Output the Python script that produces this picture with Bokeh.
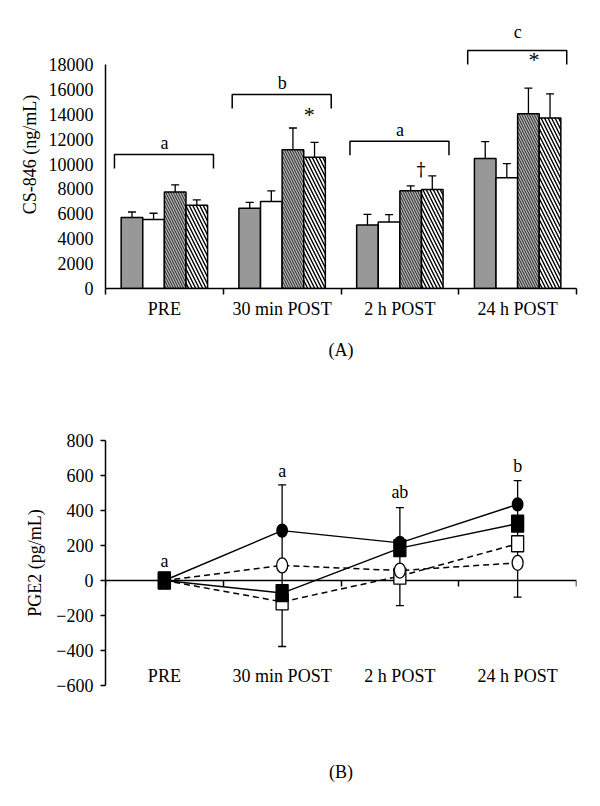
from bokeh.plotting import figure
from bokeh.models import (ColumnDataSource, FixedTicker, Whisker, TeeHead, Range1d, LinearAxis)
from bokeh.layouts import column
from bokeh.embed import file_html
from bokeh.resources import INLINE
from bokeh.core.properties import value

FONT = "Liberation Serif"

categories = ["PRE", "30 min POST", "2 h POST", "24 h POST"]

# ---------------- Panel A: CS-846 (ng/mL) ----------------
bar1 = [5700, 6450, 5100, 10450]
bar1_err = [450, 480, 850, 1350]
bar2 = [5550, 7000, 5350, 8900]
bar2_err = [500, 850, 580, 1130]
bar3 = [7750, 11150, 7850, 14050]
bar3_err = [580, 1750, 400, 2050]
bar4 = [6700, 10550, 7950, 13700]
bar4_err = [420, 1200, 1100, 1950]

bracket_tops = [10770, 15590, 11840, 19130]
bracket_letters = ["a", "b", "a", "c"]
bracket_label_y = [11670, 16490, 12740, 20600]

mark_text = ["*", "\u2020", "*"]
mark_cat = [1, 2, 3]
mark_dx = [0.73, 0.68, 0.64]
mark_y = [13980, 9580, 18400]
mark_size = ["22px", "18px", "22px"]

# ---------------- Panel B: PGE2 (pg/mL) ----------------
pge_filled_circle = [0, 285, 215, 435]
pge_filled_square = [0, -72, 185, 325]
pge_open_circle = [0, 86, 57, 101]
pge_open_square = [0, -122, 25, 210]

err_cat = [1, 2, 3]
err_low = [-377, -143, -95]
err_high = [547, 417, 571]

sig_labels = ["a", "a", "ab", "b"]
sig_y = [109, 628, 503, 653]

yticks_a = list(range(0, 18001, 2000))
yticks_b = list(range(-600, 801, 200))

# ======================= Panel A =======================
p1 = figure(width=592, height=370, x_range=Range1d(0, 4), y_range=Range1d(0, 21540),
            output_backend="svg", toolbar_location=None,
            min_border_left=105, min_border_right=14, min_border_top=20, min_border_bottom=82)
p1.outline_line_color = None
p1.grid.visible = False

bw = 0.1835
centers = [i + 0.5 for i in range(4)]
series = [
    (bar1, bar1_err, dict(fill_color="#989898")),
    (bar2, bar2_err, dict(fill_color="white")),
    (bar3, bar3_err, dict(fill_color="#b4b4b4", hatch_pattern="\\", hatch_color="#222222",
                          hatch_scale=5, hatch_weight=1.0)),
    (bar4, bar4_err, dict(fill_color="white", hatch_pattern="\\", hatch_color="black",
                          hatch_scale=7, hatch_weight=1.4)),
]
for j, (vals, errs, style) in enumerate(series):
    xs = [c + (j - 1.5) * bw for c in centers]
    src = ColumnDataSource(dict(x=xs, top=vals,
                                upper=[v + e for v, e in zip(vals, errs)],
                                lower=[v - e for v, e in zip(vals, errs)]))
    p1.vbar(x="x", top="top", width=bw, bottom=0, source=src,
            line_color="black", line_width=1.5, **style)
    w = Whisker(source=src, base="x", upper="upper", lower="lower", dimension="height",
                line_color="black", line_width=1.3,
                upper_head=TeeHead(size=8, line_color="black", line_width=1.3),
                lower_head=TeeHead(size=8, line_color="black", line_width=1.3))
    p1.add_layout(w)

drop = 1125
bxs, bys = [], []
for i, top in enumerate(bracket_tops):
    bxs.append([i + 0.076, i + 0.076, i + 0.917, i + 0.917])
    bys.append([top - drop, top, top, top - drop])
p1.multi_line(xs=bxs, ys=bys, line_color="black", line_width=1.5)
p1.text(x=centers, y=bracket_label_y, text=bracket_letters,
        text_font=value(FONT), text_font_size="18px", text_align="center",
        text_baseline="alphabetic", text_color="black")
for t, c, dx, y, s in zip(mark_text, mark_cat, mark_dx, mark_y, mark_size):
    fnt = "DejaVu Serif" if t == "\u2020" else FONT
    p1.text(x=[c + dx], y=[y], text=[t], text_font=value(fnt), text_font_size=s,
            text_align="center", text_baseline="alphabetic", text_color="black")

p1.yaxis.ticker = FixedTicker(ticks=yticks_a)
p1.yaxis.bounds = (0, 18000)
p1.xaxis.ticker = FixedTicker(ticks=centers, minor_ticks=[0, 1, 2, 3, 4])
p1.xaxis.major_label_overrides = {c: lab for c, lab in zip(centers, categories)}
p1.xaxis.major_tick_out = 6
p1.xaxis.minor_tick_out = 6
p1.xaxis.minor_tick_in = 0
p1.xaxis.minor_tick_line_color = "black"
p1.xaxis.minor_tick_line_width = 1.5
p1.xaxis.major_label_standoff = 4
p1.xaxis.axis_label = "(A)"
p1.xaxis.axis_label_standoff = 18
p1.yaxis.axis_label = "CS-846 (ng/mL)"
p1.yaxis.major_tick_out = 5
p1.yaxis.major_tick_in = 0
p1.yaxis.minor_tick_line_color = None
p1.yaxis.major_label_standoff = 7
p1.yaxis.axis_label_standoff = 6
for ax in [p1.xaxis, p1.yaxis]:
    ax.axis_line_color = "black"
    ax.axis_line_width = 1.5
    ax.major_tick_line_width = 1.5
    ax.major_tick_line_color = "black" if ax is p1.yaxis else None
    ax.major_label_text_font = FONT
    ax.major_label_text_font_size = "18px"
    ax.major_label_text_color = "black"
    ax.axis_label_text_font = FONT
    ax.axis_label_text_font_size = "18px"
    ax.axis_label_text_font_style = "normal"
    ax.axis_label_text_color = "black"

# ======================= Panel B =======================
p2 = figure(width=592, height=428, x_range=Range1d(0, 4), y_range=Range1d(-600, 800),
            output_backend="svg", toolbar_location=None, x_axis_type=None,
            min_border_left=102, min_border_right=16, min_border_top=70, min_border_bottom=113)
p2.outline_line_color = None
p2.grid.visible = False

lab_axis = LinearAxis(ticker=FixedTicker(ticks=[]), axis_line_color=None,
                      major_tick_line_color=None, minor_tick_line_color=None,
                      major_tick_out=0, minor_tick_out=0,
                      axis_label="(B)", axis_label_standoff=76,
                      axis_label_text_font=FONT, axis_label_text_font_size="18px",
                      axis_label_text_font_style="normal", axis_label_text_color="black")
p2.add_layout(lab_axis, "below")
zero_axis = LinearAxis(ticker=FixedTicker(ticks=[0, 1, 2, 3, 4]), fixed_location=0,
                       major_label_overrides={k: "" for k in [0, 1, 2, 3, 4]},
                       axis_line_color="black", axis_line_width=1.5,
                       major_tick_line_color="black", major_tick_line_width=1.5,
                       major_tick_out=6, major_tick_in=0, minor_tick_line_color=None)
p2.add_layout(zero_axis, "below")

p2.yaxis.ticker = FixedTicker(ticks=yticks_b)
p2.yaxis.major_label_overrides = {t: (str(t) if t >= 0 else "\u2212" + str(-t)) for t in yticks_b}
p2.yaxis.axis_label = "PGE2 (pg/mL)"
p2.yaxis.axis_line_width = 1.5
p2.yaxis.major_tick_line_width = 1.5
p2.yaxis.major_tick_out = 5
p2.yaxis.major_tick_in = 0
p2.yaxis.minor_tick_line_color = None
p2.yaxis.major_label_standoff = 7
p2.yaxis.axis_label_standoff = 8
p2.yaxis.major_label_text_font = FONT
p2.yaxis.major_label_text_font_size = "18px"
p2.yaxis.major_label_text_color = "black"
p2.yaxis.axis_label_text_font = FONT
p2.yaxis.axis_label_text_font_size = "18px"
p2.yaxis.axis_label_text_font_style = "normal"
p2.yaxis.axis_label_text_color = "black"

# error bars
esrc = ColumnDataSource(dict(x=[c + 0.5 for c in err_cat], lower=err_low, upper=err_high))
p2.add_layout(Whisker(source=esrc, base="x", upper="upper", lower="lower", dimension="height",
                      line_color="black", line_width=1.3, level="glyph",
                      upper_head=TeeHead(size=8, line_color="black", line_width=1.3),
                      lower_head=TeeHead(size=8, line_color="black", line_width=1.3)))

# lines and markers (bottom to top)
b_series = [
    (pge_open_square, "dashed", "rect", dict(width=12, height=16, fill_color="white")),
    (pge_filled_square, "solid", "rect", dict(width=12, height=17, fill_color="black")),
    (pge_open_circle, "dashed", "ellipse", dict(width=11, height=15, fill_color="white")),
    (pge_filled_circle, "solid", "ellipse", dict(width=10.5, height=13, fill_color="black")),
]
for vals, dash, kind, st in b_series:
    p2.line(x=centers, y=vals, line_color="black", line_width=1.5,
            line_dash=("6 4" if dash == "dashed" else "solid"))
for vals, dash, kind, st in b_series:
    src = ColumnDataSource(dict(x=centers, y=vals))
    if kind == "rect":
        r = p2.rect(x="x", y="y", width=st["width"], height=st["height"],
                    width_units="screen", height_units="screen", source=src,
                    fill_color=st["fill_color"], line_color="black", line_width=1.3)
    else:
        r = p2.ellipse(x="x", y="y", width=st["width"], height=st["height"],
                       width_units="screen", height_units="screen", source=src,
                       fill_color=st["fill_color"], line_color="black", line_width=1.3)
    r.level = "annotation"

p2.text(x=centers, y=sig_y, text=sig_labels, text_font=value(FONT), text_font_size="18px",
        text_align="center", text_baseline="alphabetic", text_color="black")
p2.text(x=centers, y=[-548] * 4, text=categories, text_font=value(FONT), text_font_size="18px",
        text_align="center", text_baseline="alphabetic", text_color="black")

layout = column(p1, p2, spacing=0)
open("out.html", "w").write(file_html(layout, INLINE))
